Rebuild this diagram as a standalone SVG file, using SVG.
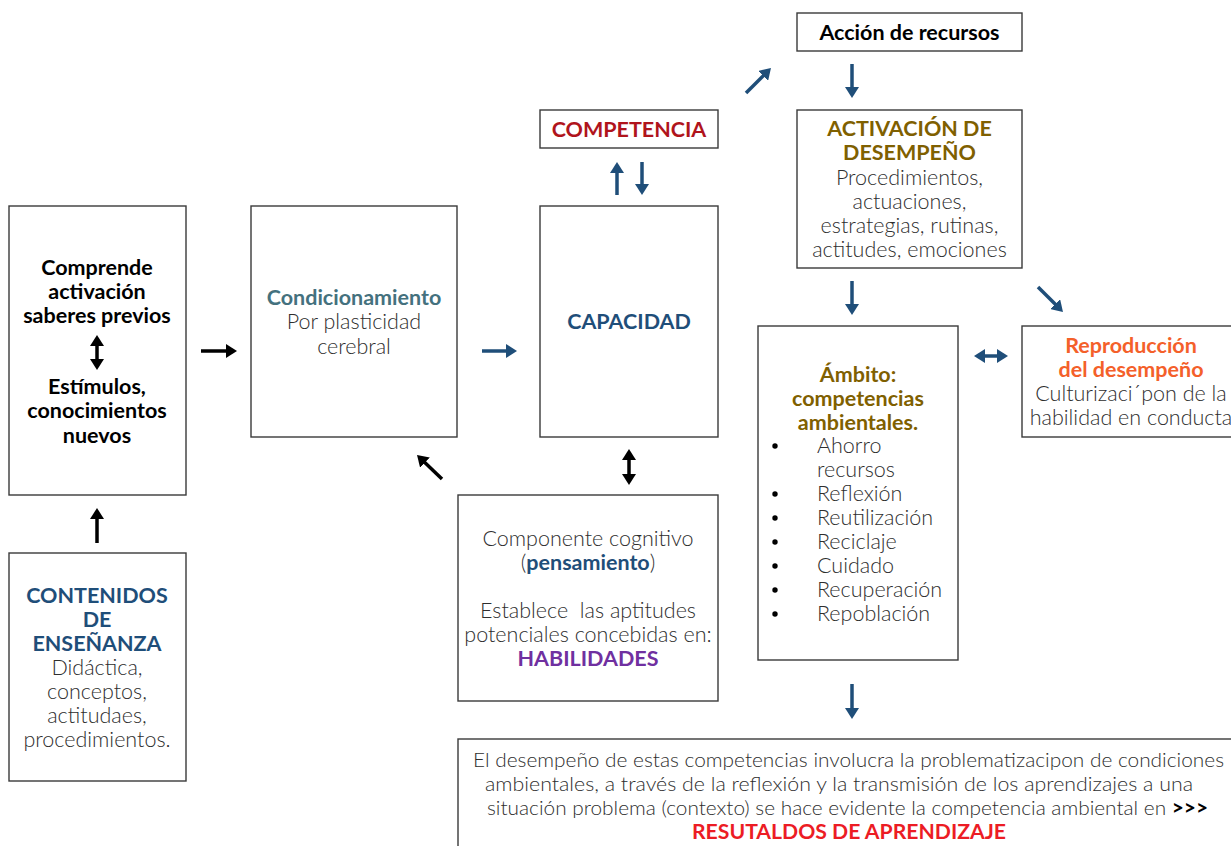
<svg xmlns="http://www.w3.org/2000/svg" width="1231" height="846" viewBox="0 0 1231 846">
<style>
.box{fill:#fff;stroke:#3a3a3a;stroke-width:1.4}
text{font-family:Lato,"Open Sans","Liberation Sans",sans-serif;font-size:21.5px}
.b{font-weight:700}
.l{font-weight:300;fill:#2e2e2e}
.c{text-anchor:middle}
.k{fill:#000}
.blue{fill:#1f4e79}
.teal{fill:#44717e}
.red{fill:#b0141c}
.olive{fill:#7f6000}
.orange{fill:#f4602a}
.purple{fill:#7030a0}
.bred{fill:#ec1c24}
.sm{font-size:20.5px}
.ab{stroke:#000;stroke-width:3.5;fill:none}
.au{stroke:#1f4e79;stroke-width:3.5;fill:none}
</style>
<defs>
<marker id="hk" markerUnits="userSpaceOnUse" markerWidth="14" markerHeight="14" refX="2" refY="7" orient="auto-start-reverse"><path d="M0,0 L11,7 L0,14 z" fill="#000"/></marker>
<marker id="hu" markerUnits="userSpaceOnUse" markerWidth="14" markerHeight="14" refX="2" refY="7" orient="auto-start-reverse"><path d="M0,0 L11,7 L0,14 z" fill="#1f4e79"/></marker>
</defs>
<rect width="1231" height="846" fill="#fff"/>

<g id="n-saberes">
<rect class="box" x="9" y="206" width="177" height="289"/>
<text class="b k c" x="97" y="275">Comprende</text>
<text class="b k c" x="97" y="299">activación</text>
<text class="b k c" x="97" y="323">saberes previos</text>
<text class="b k c" x="97" y="394">Estímulos,</text>
<text class="b k c" x="97" y="418">conocimientos</text>
<text class="b k c" x="97" y="443">nuevos</text>
</g>

<g id="n-contenidos">
<rect class="box" x="9" y="553" width="177" height="228"/>
<text class="b blue c" x="97" y="603">CONTENIDOS</text>
<text class="b blue c" x="97" y="627">DE</text>
<text class="b blue c" x="97" y="651">ENSEÑANZA</text>
<text class="l c" x="97" y="675">Didáctica,</text>
<text class="l c" x="97" y="699">conceptos,</text>
<text class="l c" x="97" y="723">actitudaes,</text>
<text class="l c" x="97" y="747">procedimientos.</text>
</g>

<g id="n-condicionamiento">
<rect class="box" x="251" y="206" width="206" height="231"/>
<text class="b teal c" x="354" y="305">Condicionamiento</text>
<text class="l c" x="354" y="329">Por plasticidad</text>
<text class="l c" x="354" y="354">cerebral</text>
</g>

<g id="n-capacidad">
<rect class="box" x="540" y="206" width="178" height="231"/>
<text class="b blue c" x="629" y="329">CAPACIDAD</text>
</g>

<g id="n-competencia">
<rect class="box" x="540" y="110" width="178" height="38"/>
<text class="b red c" x="629" y="137">COMPETENCIA</text>
</g>

<g id="n-componente">
<rect class="box" x="458" y="495" width="260" height="206"/>
<text class="l c" x="588" y="546">Componente cognitivo</text>
<text class="l c" x="588" y="570">(<tspan class="b blue">pensamiento</tspan>)</text>
<text class="l c" x="588" y="618" xml:space="preserve">Establece  las aptitudes</text>
<text class="l c" x="588" y="642">potenciales concebidas en:</text>
<text class="b purple c" x="588" y="666">HABILIDADES</text>
</g>

<g id="n-accion">
<rect class="box" x="797" y="13" width="225" height="38"/>
<text class="b k c" x="909.5" y="40">Acción de recursos</text>
</g>

<g id="n-activacion">
<rect class="box" x="797" y="110" width="225" height="158"/>
<text class="b olive c" x="909.5" y="136">ACTIVACIÓN DE</text>
<text class="b olive c" x="909.5" y="160">DESEMPEÑO</text>
<text class="l c" x="909.5" y="185">Procedimientos,</text>
<text class="l c" x="909.5" y="209">actuaciones,</text>
<text class="l c" x="909.5" y="233">estrategias, rutinas,</text>
<text class="l c" x="909.5" y="257">actitudes, emociones</text>
</g>

<g id="n-ambito">
<rect class="box" x="758" y="326" width="200" height="334"/>
<text class="b olive c" x="858" y="382">Ámbito:</text>
<text class="b olive c" x="858" y="406">competencias</text>
<text class="b olive c" x="858" y="430">ambientales.</text>
<g fill="#000">
<circle cx="775" cy="446" r="2.7"/>
<circle cx="775" cy="494" r="2.7"/>
<circle cx="775" cy="518" r="2.7"/>
<circle cx="775" cy="542" r="2.7"/>
<circle cx="775" cy="566" r="2.7"/>
<circle cx="775" cy="590" r="2.7"/>
<circle cx="775" cy="614" r="2.7"/>
</g>
<text class="l" x="817" y="453">Ahorro</text>
<text class="l" x="817" y="477">recursos</text>
<text class="l" x="817" y="501">Reflexión</text>
<text class="l" x="817" y="525">Reutilización</text>
<text class="l" x="817" y="549">Reciclaje</text>
<text class="l" x="817" y="573">Cuidado</text>
<text class="l" x="817" y="597">Recuperación</text>
<text class="l" x="817" y="621">Repoblación</text>
</g>

<g id="n-reproduccion">
<rect class="box" x="1022" y="326" width="220" height="111"/>
<text class="b orange c" x="1131" y="353">Reproducción</text>
<text class="b orange c" x="1131" y="377">del desempeño</text>
<text class="l c" x="1131" y="401">Culturizaci´pon de la</text>
<text class="l c" x="1131" y="425">habilidad en conducta</text>
</g>

<g id="n-resultados">
<rect class="box" x="458" y="739" width="790" height="120"/>
<text class="l sm" x="473" y="767" textLength="751" lengthAdjust="spacingAndGlyphs">El desempeño de estas competencias involucra la problematizacipon de condiciones</text>
<text class="l sm" x="485" y="791" textLength="708" lengthAdjust="spacingAndGlyphs">ambientales, a través de la reflexión y la transmisión de los aprendizajes a una</text>
<text class="l sm" x="487" y="815" textLength="721" lengthAdjust="spacingAndGlyphs">situación problema (contexto) se hace evidente la competencia ambiental en <tspan class="b k">&gt;&gt;&gt;</tspan></text>
<text class="b bred sm" x="692" y="839" textLength="314" lengthAdjust="spacingAndGlyphs">RESUTALDOS DE APRENDIZAJE</text>
</g>

<g id="connectors">
<line class="ab" x1="97" y1="344" x2="97" y2="361" marker-start="url(#hk)" marker-end="url(#hk)"/>
<line class="ab" x1="97" y1="543" x2="97" y2="517" marker-end="url(#hk)"/>
<line class="ab" x1="201" y1="351" x2="228" y2="351" marker-end="url(#hk)"/>
<line class="au" x1="482" y1="351" x2="508" y2="351" marker-end="url(#hu)"/>
<line class="ab" x1="442" y1="479" x2="423.5" y2="461.2" marker-end="url(#hk)"/>
<line class="ab" x1="629" y1="458" x2="629" y2="476" marker-start="url(#hk)" marker-end="url(#hk)"/>
<line class="au" x1="617" y1="195" x2="617" y2="171" marker-end="url(#hu)"/>
<line class="au" x1="642" y1="162" x2="642" y2="186" marker-end="url(#hu)"/>
<line class="au" x1="746" y1="93" x2="764.6" y2="74.4" marker-end="url(#hu)"/>
<line class="au" x1="852" y1="64" x2="852" y2="89" marker-end="url(#hu)"/>
<line class="au" x1="852" y1="281" x2="852" y2="306" marker-end="url(#hu)"/>
<line class="au" x1="1038" y1="287" x2="1056.6" y2="305.6" marker-end="url(#hu)"/>
<line class="au" x1="983" y1="356" x2="999" y2="356" marker-start="url(#hu)" marker-end="url(#hu)"/>
<line class="au" x1="852" y1="684" x2="852" y2="710" marker-end="url(#hu)"/>
</g>
</svg>
